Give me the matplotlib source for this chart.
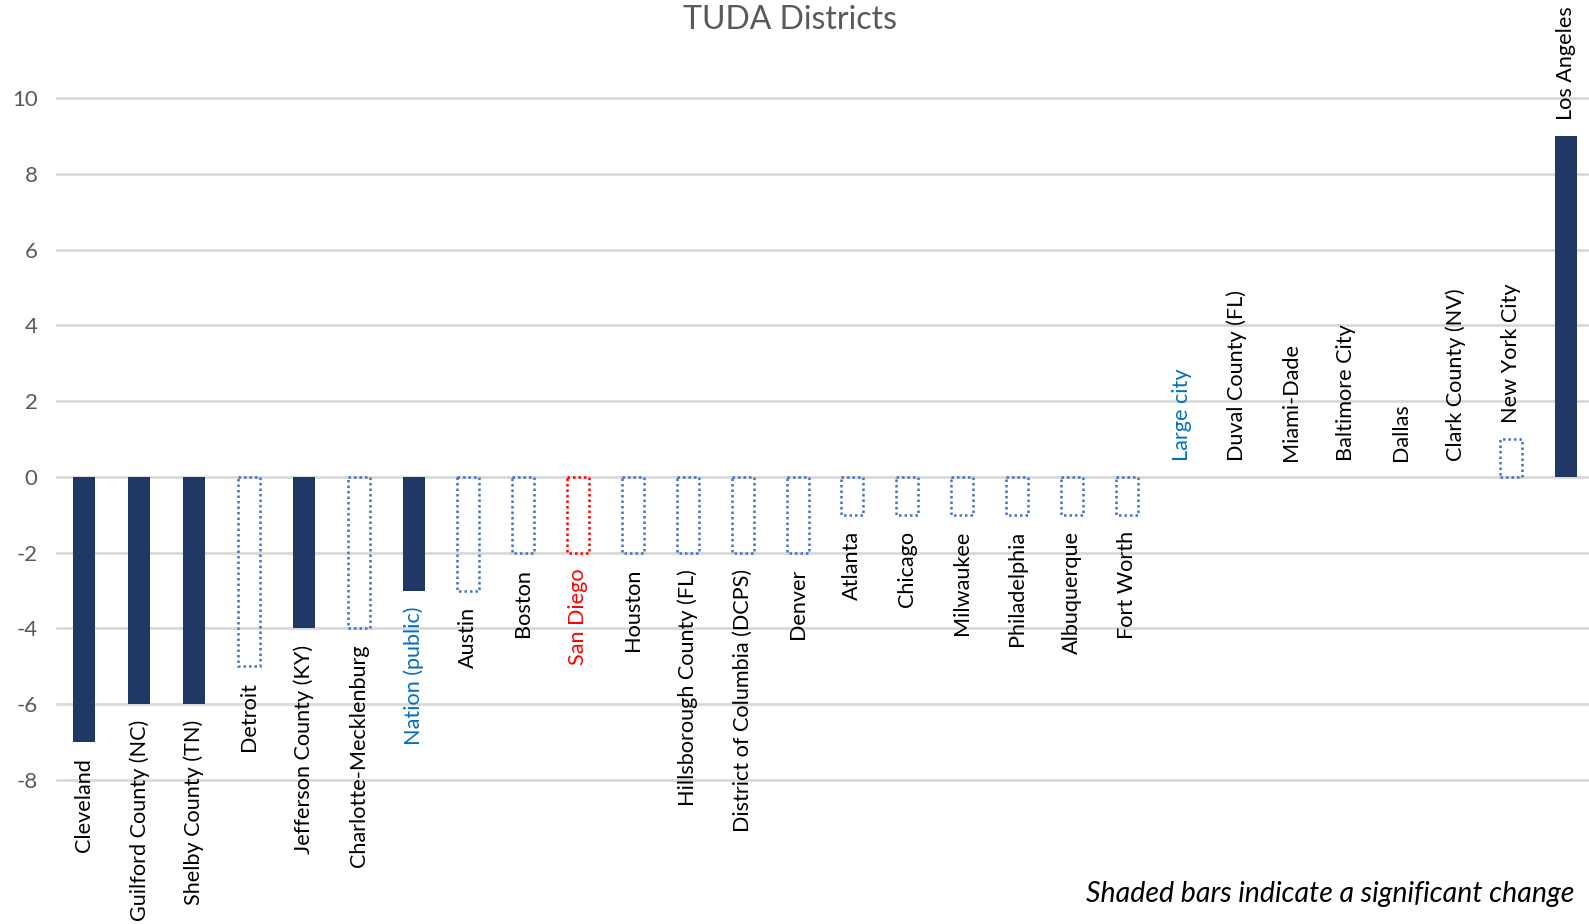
import matplotlib
matplotlib.use("Agg")
import matplotlib.pyplot as plt
from matplotlib import transforms

plt.rcParams['font.family'] = ['Lato', 'DejaVu Sans']

categories = ["Cleveland", "Guilford County (NC)", "Shelby County (TN)", "Detroit",
              "Jefferson County (KY)", "Charlotte-Mecklenburg", "Nation (public)", "Austin",
              "Boston", "San Diego", "Houston", "Hillsborough County (FL)",
              "District of Columbia (DCPS)", "Denver", "Atlanta", "Chicago", "Milwaukee",
              "Philadelphia", "Albuquerque", "Fort Worth", "Large city", "Duval County (FL)",
              "Miami-Dade", "Baltimore City", "Dallas", "Clark County (NV)", "New York City",
              "Los Angeles"]
values = [-7, -6, -6, -5, -4, -4, -3, -3, -2, -2, -2, -2, -2, -2, -1, -1, -1, -1, -1, -1,
          0, 0, 0, 0, 0, 0, 1, 9]
significant = [True, True, True, False, True, False, True, False, False, False, False, False,
               False, False, False, False, False, False, False, False, False, False, False,
               False, False, False, False, True]
label_colors = {"Nation (public)": "#0070C0", "Large city": "#0070C0", "San Diego": "#FF0000"}
yticks = [-8, -6, -4, -2, 0, 2, 4, 6, 8, 10]

W, H = 1589, 924
fig = plt.figure(figsize=(W / 100, H / 100), dpi=100)
ax = fig.add_axes([57 / W, 1 - 780 / H, (1593 - 57) / W, (780 - 98) / H])

navy = "#203864"
blue_edge = "#4472C4"
x = list(range(len(categories)))
for xi, v, sig, cat in zip(x, values, significant, categories):
    if sig:
        ax.bar(xi, v, width=0.40, color=navy, zorder=3)
    else:
        ec = "#FF0000" if cat == "San Diego" else blue_edge
        if v == 0:
            ec = "none"
        ax.bar(xi, v, width=0.40, facecolor="none", edgecolor=ec, linestyle=(0, (1, 1.2)),
               linewidth=1.8, zorder=3)

FS = 15.6
for xi, v, cat in zip(x, values, categories):
    col = label_colors.get(cat, "black")
    if v < 0:
        tr = transforms.offset_copy(ax.transData, fig=fig, x=0, y=-16, units='dots')
        ax.text(xi, v, cat, rotation=90, ha='center', va='top', color=col, fontsize=FS,
                transform=tr, clip_on=False)
    else:
        tr = transforms.offset_copy(ax.transData, fig=fig, x=0, y=16, units='dots')
        ax.text(xi, v, cat, rotation=90, ha='center', va='bottom', color=col, fontsize=FS,
                transform=tr, clip_on=False)

ax.set_xlim(-0.5, len(categories) - 0.5)
ax.set_ylim(-8, 10)
ax.set_yticks(yticks)
ax.set_yticklabels([str(t) for t in yticks], color="#595959", fontsize=16)
ax.set_xticks([])
ax.tick_params(axis='y', length=0, pad=14)
for s in ax.spines.values():
    s.set_visible(False)
ax.grid(axis='y', color="#D9D9D9", linewidth=2, zorder=0)
for gl in ax.get_ygridlines():
    gl.set_clip_on(False)
ax.set_axisbelow(True)

fig.text(790 / W, 1 - 20 / H, "TUDA Districts", ha='center', va='center', fontsize=23,
         color="#595959")
fig.text(1574 / W, 1 - 894 / H, "Shaded bars indicate a significant change", ha='right',
         va='center', fontsize=20.5, style='italic', color="black")

fig.savefig("out.png", dpi=100)
